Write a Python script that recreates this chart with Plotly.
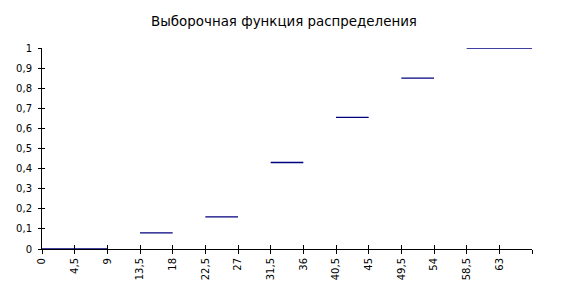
import plotly.graph_objects as go

title = "Выборочная функция распределения"
seg_start = [0, 13.5, 22.5, 31.5, 40.5, 49.5, 58.5]
seg_end = [9, 18, 27, 36, 45, 54, 67.5]
F_values = [0, 0.08, 0.16, 0.43, 0.655, 0.85, 1.0]
x_tick_vals = [0, 4.5, 9, 13.5, 18, 22.5, 27, 31.5, 36, 40.5, 45, 49.5, 54, 58.5, 63, 67.5]
x_tick_text = ["0", "4,5", "9", "13,5", "18", "22,5", "27", "31,5", "36", "40,5", "45", "49,5", "54", "58,5", "63", ""]
y_tick_vals = [0, 0.1, 0.2, 0.3, 0.4, 0.5, 0.6, 0.7, 0.8, 0.9, 1]
y_tick_text = ["0", "0,1", "0,2", "0,3", "0,4", "0,5", "0,6", "0,7", "0,8", "0,9", "1"]

xs, ys = [], []
for a, b, f in zip(seg_start, seg_end, F_values):
    xs += [a, b, None]
    ys += [f, f, None]

fig = go.Figure()
fig.add_trace(go.Scatter(x=xs, y=ys, mode="lines", line=dict(color="#000080", width=1.4),
                         hoverinfo="skip", showlegend=False, cliponaxis=False))
fig.add_trace(go.Scatter(x=[0], y=[0], xaxis="x2", yaxis="y2", mode="markers",
                         marker=dict(opacity=0), hoverinfo="skip", showlegend=False))

font = dict(family="DejaVu Sans", size=10, color="black")
fig.update_layout(
    width=568, height=286,
    margin=dict(l=42, r=36, t=48, b=37),
    paper_bgcolor="white", plot_bgcolor="white",
    title=dict(text=title, x=0.5, xref="container", xanchor="center", y=0.925, yref="container",
               yanchor="middle", font=dict(family="DejaVu Sans", size=13.4, color="black")),
    xaxis=dict(range=[0, 67.5], tickvals=x_tick_vals, ticktext=x_tick_text, tickangle=-90,
               ticks="outside", ticklen=4, tickcolor="black", tickwidth=1, automargin=False,
               showline=True, linecolor="black", linewidth=1, showgrid=False, zeroline=False,
               tickfont=font, fixedrange=True),
    yaxis=dict(range=[0, 1], tickvals=y_tick_vals, ticktext=y_tick_text, automargin=False,
               ticks="outside", ticklen=3, tickcolor="black", tickwidth=1,
               showline=True, linecolor="black", linewidth=1, showgrid=False, zeroline=False,
               tickfont=font, ticklabelstandoff=4, fixedrange=True),
    xaxis2=dict(range=[0, 67.5], overlaying="x", tickvals=x_tick_vals, ticks="inside", ticklen=4,
                tickcolor="black", showticklabels=False, showgrid=False, zeroline=False,
                showline=False, fixedrange=True),
    yaxis2=dict(range=[0, 1], overlaying="y", tickvals=y_tick_vals, ticks="inside", ticklen=3,
                tickcolor="black", showticklabels=False, showgrid=False, zeroline=False,
                showline=False, fixedrange=True),
)
fig.write_html("out.html")
